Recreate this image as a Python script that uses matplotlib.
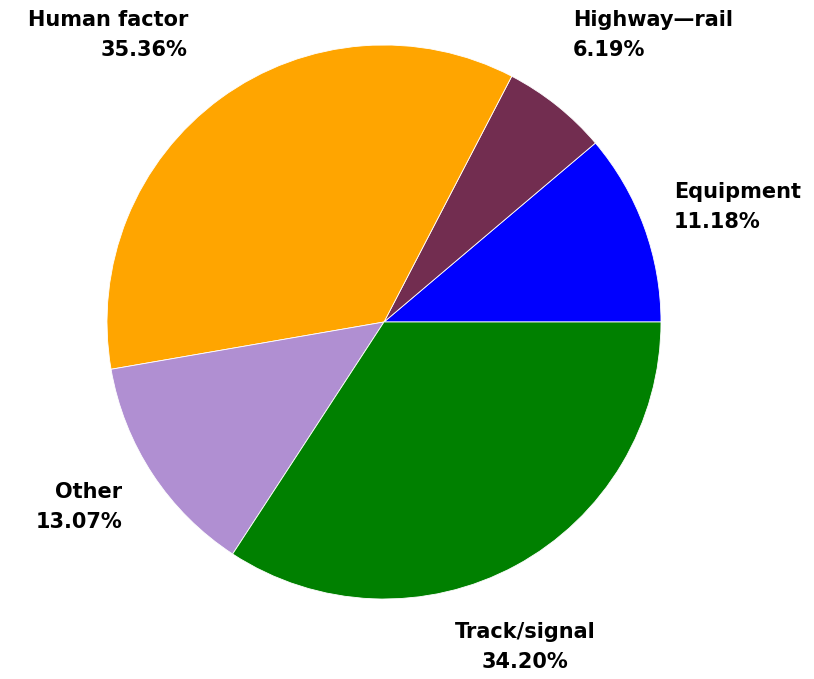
import matplotlib.pyplot as plt

# Slice data (counter-clockwise from 3 o'clock)
categories = ['Equipment', 'Highway\u2014rail', 'Human factor', 'Other', 'Track/signal']
shares = [11.18, 6.19, 35.36, 13.07, 34.20]
colors = ['#0000FF', '#722D50', '#FFA500', '#B08FD2', '#008000']

# label anchor positions in pie-radius units, with alignment
label_pos = [(1.047, 0.415, 'left'), (0.682, 1.036, 'left'), (-0.708, 1.036, 'right'),
             (-0.946, -0.668, 'right'), (0.509, -1.173, 'center')]

W, H = 814, 679
cx, cy, r = 384, 322, 277

fig = plt.figure(figsize=(W / 100, H / 100), dpi=100)
ax = fig.add_axes([0, 0, 1, 1])

ax.pie(shares, colors=colors, startangle=0, counterclock=True,
       wedgeprops=dict(edgecolor='white', linewidth=0.6))

ax.set_aspect('auto')
ax.set_xlim(-cx / r, (W - cx) / r)
ax.set_ylim(-(H - cy) / r, cy / r)
ax.axis('off')

for name, val, (x, y, ha) in zip(categories, shares, label_pos):
    ax.text(x, y, f'{name}\n{val:.2f}%', ha=ha, va='center', fontsize=15,
            fontweight='bold', family='DejaVu Sans', linespacing=1.6)

fig.savefig('out.png', dpi=100, facecolor='white')
